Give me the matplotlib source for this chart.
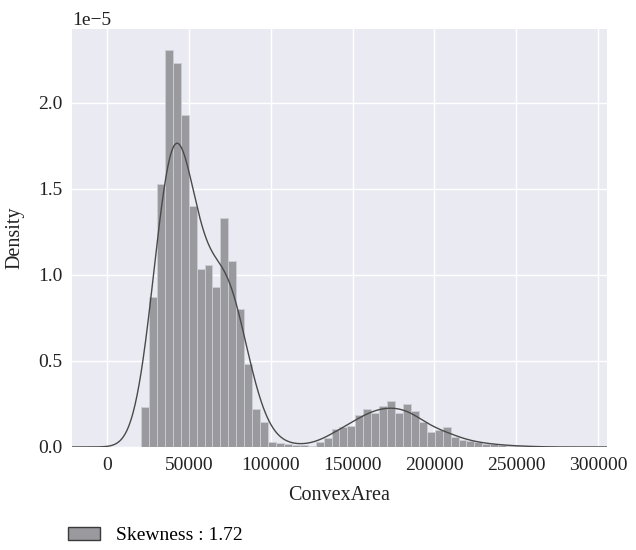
import numpy as np
import matplotlib
matplotlib.use("Agg")
import matplotlib.pyplot as plt
from matplotlib.patches import Patch

# Histogram of ConvexArea: 50 equal-width bins between the sample min and max
bin_lo = 20684
bin_hi = 263261
n_bins = 50

# Bar heights (density, in units of 1e-5)
density_e5 = [
    0.23, 0.87, 1.53, 2.31, 2.23, 1.93, 1.40, 1.035, 1.06, 0.93,
    1.33, 1.08, 0.80, 0.48, 0.22, 0.145, 0.03, 0.025, 0.015, 0.012,
    0.01, 0.005, 0.03, 0.052, 0.105, 0.116, 0.12, 0.184, 0.22, 0.198,
    0.24, 0.267, 0.195, 0.248, 0.212, 0.145, 0.087, 0.10, 0.115, 0.056,
    0.04, 0.033, 0.028, 0.02, 0.015, 0.01, 0.008, 0.006, 0.004, 0.003,
]
scale = 1e-5

x_ticks = [0, 50000, 100000, 150000, 200000, 250000, 300000]
y_ticks_e5 = [0.0, 0.5, 1.0, 1.5, 2.0]
x_label = "ConvexArea"
y_label = "Density"
legend_label = "Skewness : 1.72"

plt.rcParams["font.family"] = ["Liberation Serif", "DejaVu Serif"]
plt.rcParams["font.size"] = 14
plt.rcParams["axes.formatter.use_mathtext"] = False

fig = plt.figure(figsize=(6.36, 5.5), dpi=100)
ax = fig.add_axes([0.1132, 0.1873, 0.8412, 0.76])
ax.set_facecolor("#EAEAF2")
for s in ax.spines.values():
    s.set_visible(False)
ax.grid(True, color="white", linewidth=1.0)
ax.set_axisbelow(True)

edges = np.linspace(bin_lo, bin_hi, n_bins + 1)
width = edges[1] - edges[0]
heights = np.array(density_e5) * scale
ax.bar(edges[:-1], heights, width=width, align="edge",
       color="#99999e", edgecolor="#cdcdd6", linewidth=0.6, zorder=2)

# Smoothed density: Gaussian kernel over the bin centres, weighted by bar area
centers = edges[:-1] + width / 2
bw = 9000.0
xs = np.linspace(-22000, 306000, 800)
kern = np.exp(-0.5 * ((xs[:, None] - centers[None, :]) / bw) ** 2) / (bw * np.sqrt(2 * np.pi))
kde = (kern * (heights * width)[None, :]).sum(axis=1)
ax.plot(xs, kde, color="#4a4a4a", linewidth=1.0, zorder=3)

ax.set_xlim(-21500, 305500)
ax.set_ylim(0, 2.43e-5)
ax.set_xticks(x_ticks)
ax.set_yticks(np.array(y_ticks_e5) * scale)
ax.tick_params(axis="both", length=0, pad=7, labelsize=14, colors="#222222")
ax.yaxis.get_offset_text().set_fontsize(14)
ax.set_xlabel(x_label, fontsize=14.5, labelpad=9, color="#222222")
ax.set_ylabel(y_label, fontsize=14.5, labelpad=10, color="#222222")

handle = Patch(facecolor="#99999e", edgecolor="#3a3a3a", linewidth=1.0)
fig.legend([handle], [legend_label], loc="center left",
           bbox_to_anchor=(0.107, 0.026), frameon=False,
           borderpad=0, borderaxespad=0, handlelength=1.65,
           handleheight=0.65, handletextpad=0.8, fontsize=14)

fig.savefig("out.png", dpi=100)
